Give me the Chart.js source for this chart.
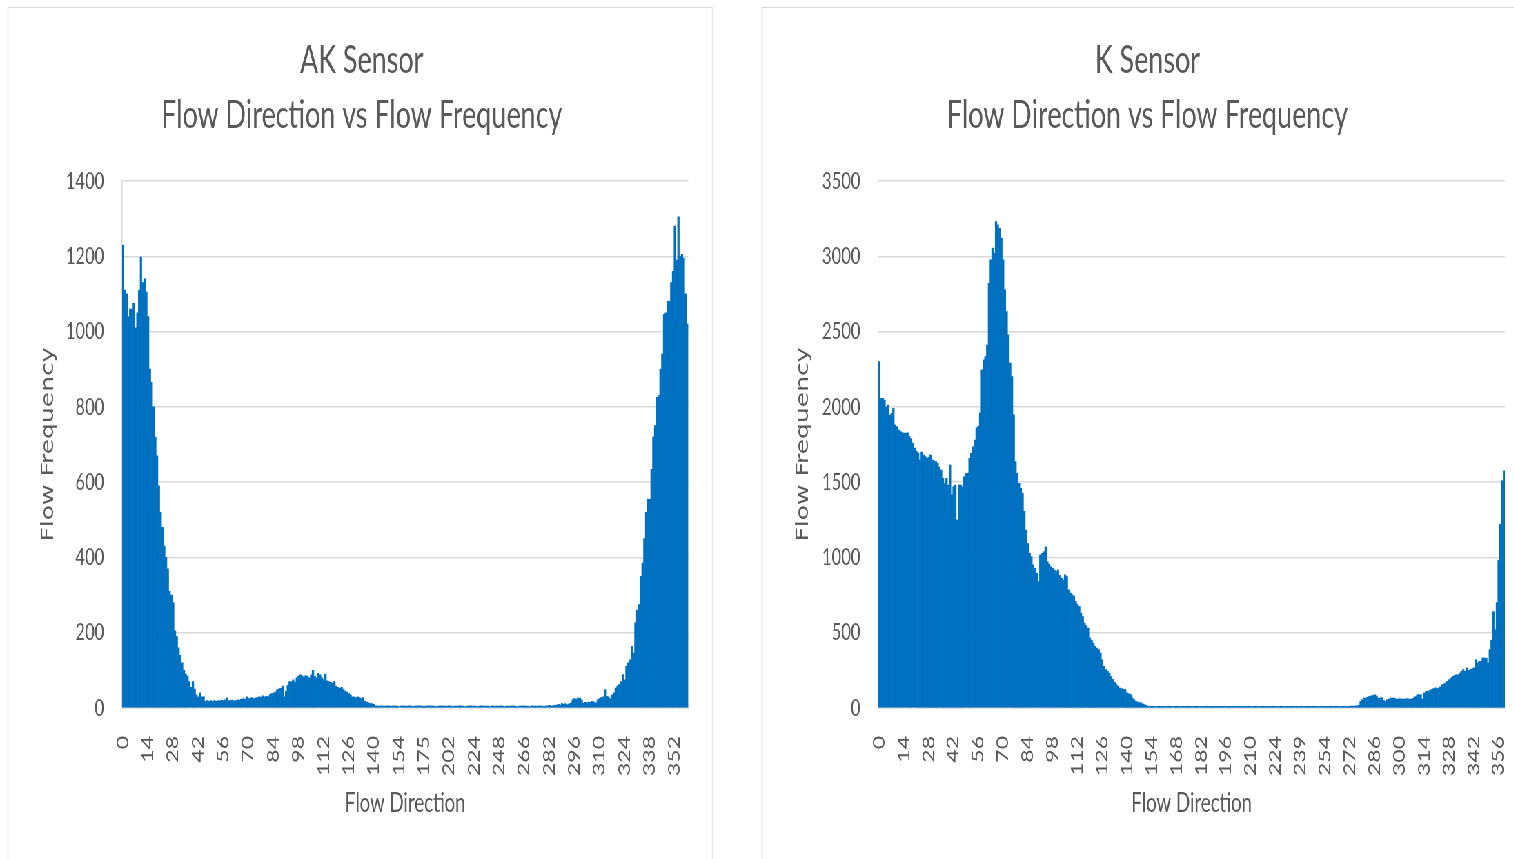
<!DOCTYPE html>
<html>
<head>
<meta charset="utf-8">
<script src="https://cdn.jsdelivr.net/npm/chart.js@4/dist/chart.umd.min.js"></script>
<style>
  html, body { margin: 0; padding: 0; background: #fff; overflow: hidden; width: 1514px; height: 859px; }
  /* the reference is squeezed sideways, so draw wide and compress */
  #stage { position: absolute; left: 0; top: 0; width: 2194px; height: 859px; transform: scaleX(0.69); transform-origin: 0 0; }
  .frame { position: absolute; top: 7px; height: 900px; border: 1.5px solid #d9d9d9; border-top-width: 1px; box-sizing: border-box; }
  .box { position: absolute; top: 7px; height: 852px; }
</style>
</head>
<body>
<div id="stage">
  <div class="frame" style="left:11px; width:1022px;"></div>
  <div class="frame" style="left:1104px; width:1200px;"></div>
  <div class="box" style="left:12px; width:1020px;"><canvas id="chart1"></canvas></div>
  <div class="box" style="left:1104px; width:1090px;"><canvas id="chart2"></canvas></div>
</div>
<script>
// AK sensor - directions (categories) and counts
const akDirections = [
  0,1,2,3,4,5,6,7,8,9,10,11,12,13,14,15,16,17,18,19,20,21,22,23,24,25,26,27,28,29,
  30,31,32,33,34,35,36,37,38,39,40,41,42,43,44,45,46,47,48,49,50,51,52,53,54,55,56,57,58,59,
  60,61,62,63,64,65,66,67,68,69,70,71,72,73,74,75,76,77,78,79,80,81,82,83,84,85,86,87,88,89,
  90,91,92,93,94,95,96,97,98,99,100,101,102,103,104,105,106,107,108,109,110,111,112,113,114,115,116,117,118,119,
  120,121,122,123,124,125,126,127,128,129,130,131,132,133,134,135,136,137,138,139,140,141,142,143,144,145,146,147,148,149,
  150,151,152,153,154,
  155,156,158,159,161,162,164,165,167,168,170,172,174,175,
  177,179,181,183,185,187,189,191,193,195,197,199,200,202,
  204,205,207,208,210,211,213,214,216,217,219,220,222,224,
  226,228,229,231,233,234,236,238,239,241,243,244,246,248,
  249,250,252,253,254,256,257,258,260,261,262,264,265,266,
  267,268,269,270,272,273,274,275,276,277,279,280,281,282,
  283,284,285,286,287,288,289,290,291,292,293,294,295,296,297,298,299,300,301,302,303,304,305,306,307,308,309,310,
  311,312,313,314,315,316,317,318,319,320,321,322,323,324,325,326,327,328,329,330,331,332,333,334,335,336,337,338,339,340,
  341,342,343,344,345,346,347,348,349,350,351,352,353,354,355,356,357,358,359
];
const akFrequency = [
  1230,1110,1100,1040,1060,1060,1075,1010,1050,1110,1198,1130,1140,1105,1040,
  900,865,800,720,670,590,520,480,430,400,370,310,300,280,205,
  190,160,140,120,100,90,85,70,55,70,50,35,30,40,30,
  30,18,20,18,20,17,20,18,20,19,21,20,22,27,20,
  20,21,19,20,22,21,23,25,24,30,25,26,28,25,27,
  28,30,29,32,30,31,30,35,38,40,42,48,50,52,58,
  30,45,60,70,70,75,68,80,85,88,85,82,86,84,80,
  88,100,85,80,92,88,80,75,90,72,70,68,66,70,58,
  55,52,55,50,45,42,38,35,30,30,28,30,28,25,28,
  18,16,14,12,12,10,6,5,5,6,5,5,5,6,5,
  5,6,5,5,4,5,6,5,5,5, 6,5,4,5,5,6,5,5,4,5, 5,6,5,5,5,4,5,6,5,5,
  5,5,6,5,4,5,5,5,6,5, 5,4,5,5,6,5,5,5,4,5, 6,5,5,5,5,4,6,5,5,5,
  5,6,5,4,5,5,5,6,5,5, 4,5,5,6,5,5,5,4,6,5, 5,5,6,5,5,4,5,6,7,5, 6,7,8,
  10,8,12,10,12,9,11,13,22,25,24,27,26,22,
  13,15,14,16,15,18,16,14,22,25,28,30,49,31,30,25,
  35,40,53,58,62,70,89,75,111,120,128,164,146,226,260,275,350,385,450,520,555,554,634,
  720,750,825,830,900,940,1045,1050,1080,1080,1130,1160,1280,1190,1305,1200,1205,1195,1100,1020
];

// K sensor - directions (categories) and counts
const kDirections = [
  0,1,2,3,4,5,6,7,8,9,10,11,12,13,14,15,16,17,18,19,20,21,22,23,24,25,26,27,28,29,
  30,31,32,33,34,35,36,37,38,39,40,41,42,43,44,45,46,47,48,49,50,51,52,53,54,55,56,57,58,59,
  60,61,62,63,64,65,66,67,68,69,70,71,72,73,74,75,76,77,78,79,80,81,82,83,84,85,86,87,88,89,
  90,91,92,93,94,95,96,97,98,99,100,101,102,103,104,105,106,107,108,109,110,111,112,113,114,115,116,117,118,119,
  120,121,122,123,124,125,126,127,128,129,130,131,132,133,134,135,136,137,138,139,140,141,142,143,144,145,146,147,148,149,
  150,151,152,153,154,155,156,157,158,159,160,161,162,163,164,165,166,167,168,169,170,171,172,173,174,175,176,177,178,179,
  180,181,182,183,184,185,186,187,188,189,190,191,192,193,194,195,196,197,198,199,200,201,202,203,204,205,206,207,208,209,
  210,211,212,213,214,215,216,217,218,219,220,221,222,223,224,225,226,227,228,229,230,231,
  233,234,235,236,237,238,239,240,241,242,243,244,245,246,
  248,249,250,251,252,253,254,255,256,257,259,260,261,263,264,266,267,268,
  270,271,272,273,274,275,276,277,278,279,280,281,282,283,284,285,286,287,288,289,290,291,292,293,294,295,296,297,298,299,
  300,301,302,303,304,305,306,307,308,309,310,311,312,313,314,315,316,317,318,319,320,321,322,323,324,325,326,327,328,329,
  330,331,332,333,334,335,336,337,338,339,340,341,342,343,344,345,346,347,348,349,350,351,352,353,354,355,356,357,358,359
];
const kFrequency = [
  2300,2056,2056,2045,2000,2012,1946,1957,1990,1880,1869,1846,1836,1829,1825,
  1825,1828,1803,1790,1760,1726,1704,1693,1647,1700,1680,1670,1658,1665,1680,
  1647,1640,1636,1625,1600,1580,1525,1490,1525,1480,1614,1415,1470,1481,1249,
  1481,1481,1470,1536,1558,1560,1658,1691,1735,1780,1860,1870,1960,2245,2312,
  2334,2411,2820,2976,3054,3020,3230,3208,3186,3120,2976,2777,2633,2478,2290,
  2201,1947,1636,1558,1492,1459,1426,1306,1182,1093,1027,1005,950,928,895,
  840,1016,1027,1038,1071,972,955,939,928,915,906,917,880,862,850,
  884,873,785,763,752,741,708,690,675,630,608,564,548,531,465,
  450,432,410,398,388,365,320,277,255,244,232,210,190,170,155,
  144,133,128,125,122,100,95,89,66,55,44,40,35,33,26,
  22,18,
  11,10,12,11,10,11,12,10,11,11, 10,12,11,11,10,11,12,11,10,11,
  11,10,11,12,11,10,11,11,12,10, 11,11,10,12,11,11,10,11,12,11,
  10,11,11,12,10,11,11,10,12,11, 11,10,12,11,11,10,11,12,11,10,
  11,12,10,11,11,12,10,11,11,10, 12,11,11,10,11,12,11,10,11,11,
  10,11,12,11,10,11,11,12,10,11, 11,10,11,12,11,11,10,11,12,11,
  10,11,11,12,10,11,12,11,10,11, 11,12,10,11,12,13,12,14,15,18,
  44,55,66,66,72,77,80,85,88,80,66,66,70,50,44,
  55,60,66,66,66,60,60,62,58,60,60,62,60,58,60,
  66,75,88,88,88,60,100,111,111,115,122,128,133,133,130,
  140,155,160,166,177,188,199,210,215,221,221,232,244,255,244,
  266,250,255,260,266,321,299,310,310,332,332,330,299,387,
  450,640,520,700,980,1220,1510,1575
];

const textGrey = '#595959';
const gridGrey = '#d9d9d9';

function makeChart(id, sensor, labels, values, yMax, yStep, pad, yWidth, yBorder) {
    const ctx = document.getElementById(id).getContext('2d');
    return new Chart(ctx, {
        type: 'bar',
        data: {
            labels: labels,
            datasets: [{
                label: 'Flow Frequency',
                data: values,
                backgroundColor: '#0070C0',
                borderWidth: 0,
                barPercentage: 1,
                categoryPercentage: 1,
            }]
        },
        options: {
            responsive: true,
            maintainAspectRatio: false,
            animation: false,
            layout: { padding: { left: pad.left, right: pad.right, top: 0, bottom: 36 } },
            scales: {
                x: {
                    grid: { display: false },
                    border: { display: true, color: gridGrey, width: 1.5 },
                    ticks: {
                        autoSkip: false,
                        maxRotation: 90,
                        minRotation: 90,
                        padding: 20,
                        color: textGrey,
                        font: { family: 'Lato', size: 23 },
                        callback: function (value, index) {
                            return index % 14 === 0 ? this.getLabelForValue(value) : '';
                        }
                    },
                    title: {
                        display: true,
                        text: 'Flow Direction',
                        color: textGrey,
                        font: { family: 'Lato', size: 27 },
                    },
                    afterFit: (scale) => {
                        scale.height = 115;
                        // rotated labels + tick padding would otherwise eat the right margin
                        scale.paddingRight = 0;
                        scale.paddingLeft = 0;
                    }
                },
                y: {
                    min: 0,
                    max: yMax,
                    ticks: {
                        stepSize: yStep,
                        padding: 26,
                        color: textGrey,
                        font: { family: 'Lato', size: 24 },
                        callback: (v) => String(v)
                    },
                    grid: { color: gridGrey, lineWidth: 1.5, drawTicks: false },
                    border: { display: yBorder, color: gridGrey, width: 1.5 },
                    title: {
                        display: true,
                        text: 'Flow Frequency',
                        color: textGrey,
                        font: { family: 'DejaVu Sans', size: 25 },
                    },
                    afterFit: (scale) => { scale.width = yWidth; }
                }
            },
            plugins: {
                legend: { display: false },
                tooltip: { enabled: false },
                title: {
                    display: true,
                    text: [sensor, 'Flow Direction vs Flow Frequency'],
                    color: textGrey,
                    font: { family: 'Lato', size: 39, weight: 'normal', lineHeight: 1.41 },
                    padding: { top: 25.5, bottom: 38.5 }
                }
            }
        }
    });
}

makeChart('chart1', 'AK Sensor', akDirections, akFrequency, 1400, 200, { left: 39, right: 34.5 }, 126, true);
makeChart('chart2', 'K Sensor', kDirections, kFrequency, 3500, 500, { left: 41, right: 13 }, 128, false);
</script>
</body>
</html>
